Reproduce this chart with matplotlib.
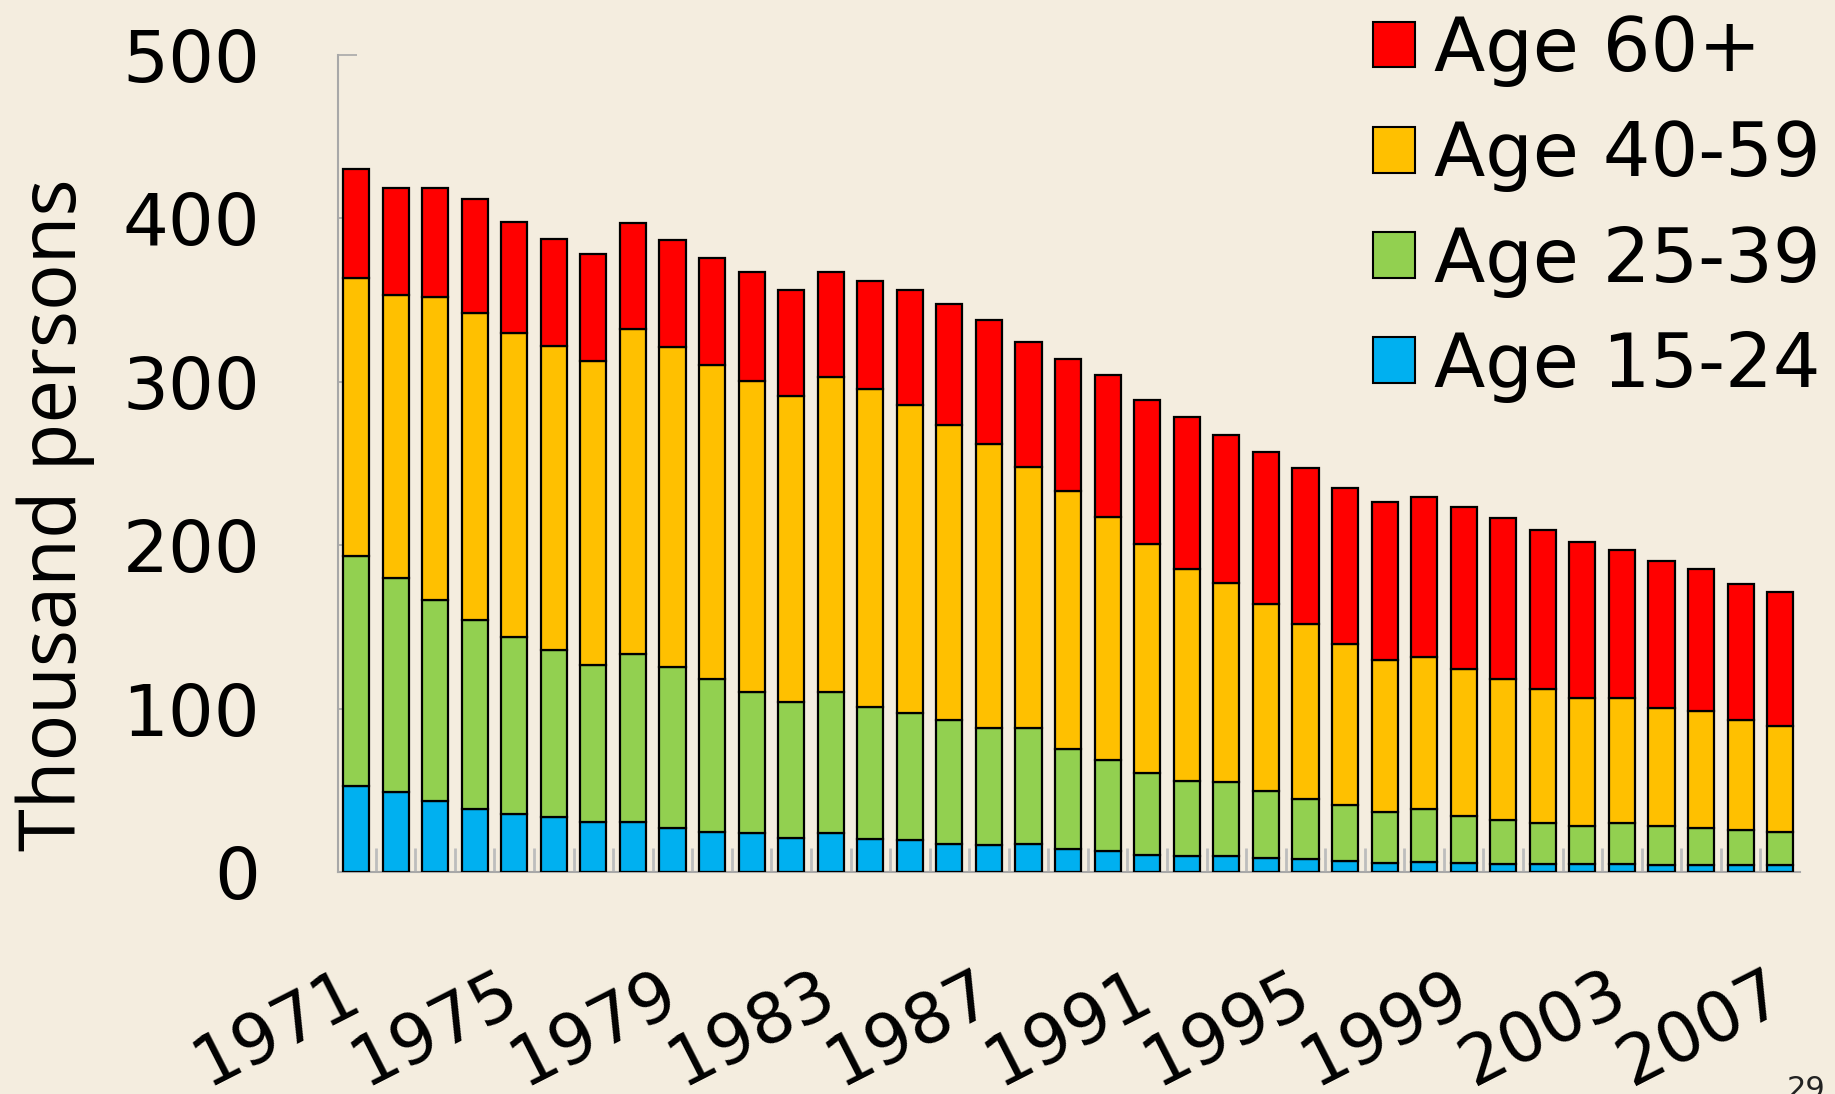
import matplotlib.pyplot as plt
from matplotlib.patches import Patch
import numpy as np

# Unemployed persons by age group, thousands
years = list(range(1971, 2008))
age_15_24 = [52.8, 48.7, 43.2, 38.6, 35.7, 33.7, 30.8, 30.8, 27.1, 24.5,
             23.9, 21.0, 23.6, 20.3, 19.7, 17.2, 16.5, 17.2, 14.0, 13.0,
             10.5, 9.7, 9.7, 8.5, 7.7, 6.7, 5.8, 5.9, 5.3, 5.0,
             5.0, 4.8, 4.8, 4.6, 4.5, 4.5, 4.5]
age_25_39 = [140.4, 131.2, 123.1, 115.4, 107.9, 102.1, 95.8, 102.4, 98.3, 93.4,
             86.5, 82.8, 86.5, 80.9, 77.5, 76.0, 71.8, 71.1, 61.3, 55.8,
             49.8, 45.9, 45.4, 40.9, 36.9, 34.2, 31.2, 32.6, 29.1, 26.8,
             25.3, 23.5, 25.5, 23.7, 22.2, 21.2, 19.7]
age_40_59 = [170.6, 173.3, 185.7, 187.9, 186.2, 185.9, 186.2, 199.2, 196.1, 192.6,
             190.0, 187.4, 192.6, 194.6, 188.5, 180.5, 173.7, 159.8, 157.8, 148.6,
             140.4, 130.1, 121.7, 114.4, 107.2, 98.5, 92.7, 93.4, 90.0, 86.1,
             81.9, 78.4, 76.4, 72.3, 71.8, 67.1, 65.2]
age_60_plus = [66.6, 65.7, 66.9, 69.8, 68.1, 65.8, 65.5, 64.6, 65.4, 65.1,
               66.6, 64.9, 64.3, 65.7, 70.6, 74.1, 76.1, 76.2, 80.8, 86.5,
               88.0, 93.0, 90.9, 93.0, 95.5, 95.7, 96.5, 97.4, 98.7, 98.5,
               97.1, 95.3, 90.4, 90.0, 86.8, 83.3, 82.2]

labels = ["Age 15-24", "Age 25-39", "Age 40-59", "Age 60+"]
colors = ["#00b0f0", "#92d050", "#ffc000", "#ff0000"]
bg = "#f4eddf"
axis_grey = "#a8a8a8"

fig = plt.figure(figsize=(18.35, 10.94), dpi=100, facecolor=bg)
ax = fig.add_axes([0.1842, 0.2029, 0.7967, 0.7468])
ax.set_facecolor(bg)

x = np.arange(len(years))
bottom = np.zeros(len(years))
for vals, col in zip([age_15_24, age_25_39, age_40_59, age_60_plus], colors):
    ax.bar(x, vals, width=0.66, bottom=bottom, color=col,
           edgecolor="black", linewidth=1.6, zorder=3)
    bottom += np.array(vals)

ax.set_xlim(-0.455, 36.5)
ax.set_ylim(0, 500)

for s in ["top", "right"]:
    ax.spines[s].set_visible(False)
for s in ["left", "bottom"]:
    ax.spines[s].set_color(axis_grey)
    ax.spines[s].set_linewidth(1.5)

# y axis
ax.set_yticks(range(0, 501, 100))
ax.tick_params(axis="y", direction="in", length=14, width=1.2,
               color=axis_grey, labelsize=52, pad=56)

# x axis: every 4th year labelled, separators between categories
tick_idx = list(range(0, len(years), 4))
ax.set_xticks(tick_idx)
ax.set_xticklabels([str(years[i]) for i in tick_idx], rotation=27,
                   ha="right", va="center", rotation_mode="anchor")
ax.tick_params(axis="x", which="major", length=0, labelsize=50, pad=84)
ax.set_xticks(np.arange(0.5, len(years) - 0.5, 1), minor=True)
ax.tick_params(axis="x", which="minor", direction="in", length=17,
               width=2, color="#bdbdbd")

fig.text(55 / 1835, 1 - 515 / 1094, "Thousand persons", rotation=90,
         ha="center", va="center", fontsize=56, family="Open Sans")

handles = [Patch(facecolor=c, edgecolor="black", linewidth=1.5) for c in colors]
fig.legend(handles[::-1], labels[::-1], loc="upper left",
           bbox_to_anchor=(1373 / 1835, 1 - 14 / 1094),
           bbox_transform=fig.transFigure,
           frameon=False, fontsize=54, handlelength=0.56, handleheight=0.56,
           handletextpad=0.25, labelspacing=0.43, borderpad=0,
           borderaxespad=0)

fig.text(1787 / 1835, 1 - 1075 / 1094, "29", ha="left", va="top",
         fontsize=22, color="#222222")

fig.savefig("out.png", dpi=100, facecolor=bg)
